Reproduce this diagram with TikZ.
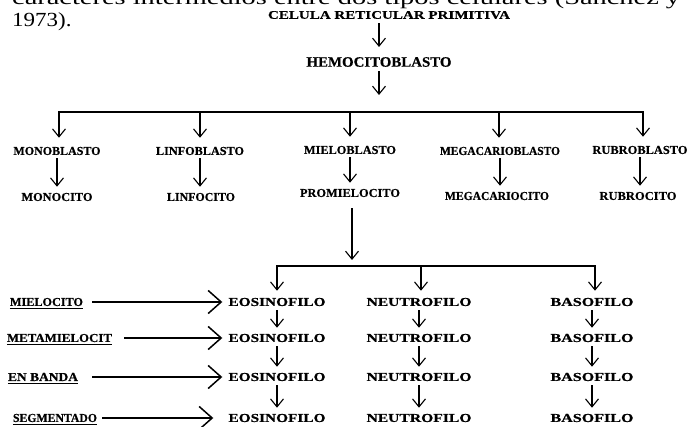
\documentclass[tikz,border=0pt]{standalone}
\usepackage{fontspec}
\setmainfont{Liberation Serif}
\newfontfamily\lblfont[FakeBold=0.5]{Liberation Serif Bold}
\usetikzlibrary{arrows.meta}
\newcommand{\fitlbl}[3][8]{\resizebox{#2pt}{#1pt}{\lblfont #3}}
\begin{document}
\begin{tikzpicture}[x=1pt,y=-1pt,
  lbl/.style={inner sep=0pt, anchor=center},
  dn/.style={-{Straight Barb[length=8pt,width=13pt,line width=1.1pt]}, line width=1.1pt},
  bar/.style={line width=1.3pt},
  big/.style={-{Straight Barb[length=13pt,width=23pt,line width=1.5pt]}, line width=1.5pt},
  uline/.style={line width=1pt}]
\useasboundingbox (0,0) rectangle (690,427);

% partially visible running text (cut by the page edge)
\begin{scope}
  \clip (0,0) rectangle (690,9);
  \node[anchor=base west, inner sep=0pt] (intro) at (12,4.5)
    {\scalebox{1.42}[1]{\fontsize{20}{24}\selectfont caracteres intermedios entre dos tipos celulares (Sánchez y}};
\end{scope}
\node[anchor=base west, inner sep=0pt] (year) at (12,27)
  {\scalebox{1.15}[1]{\fontsize{20}{24}\selectfont 1973).}};

% top chain
\node[lbl] (celula) at (389,15) {\fitlbl[7.7]{242}{CELULA RETICULAR PRIMITIVA}};
\node[lbl] (hemo) at (379,62) {\fitlbl[9.5]{145}{HEMOCITOBLASTO}};

\coordinate (b1) at (59,112);
\coordinate (b2) at (200,112);
\coordinate (b3) at (350,112);
\coordinate (b4) at (499,112);
\coordinate (b5) at (643,112);

\node[lbl] (mono)  at (57,151)  {\fitlbl{87}{MONOBLASTO}};
\node[lbl] (linfo) at (200,151) {\fitlbl{88}{LINFOBLASTO}};
\node[lbl] (mielo) at (350,150) {\fitlbl{92}{MIELOBLASTO}};
\node[lbl] (mega)  at (500,151) {\fitlbl{120}{MEGACARIOBLASTO}};
\node[lbl] (rubro) at (640,150) {\fitlbl{95}{RUBROBLASTO}};

\node[lbl] (monoc)  at (57,197)  {\fitlbl{71}{MONOCITO}};
\node[lbl] (linfoc) at (201,197) {\fitlbl{68}{LINFOCITO}};
\node[lbl] (prom)   at (350,193) {\fitlbl{100}{PROMIELOCITO}};
\node[lbl] (megac)  at (497,196) {\fitlbl{104}{MEGACARIOCITO}};
\node[lbl] (rubroc) at (638,196) {\fitlbl{77}{RUBROCITO}};

\draw[dn, shorten <=4pt, shorten >=10pt] (celula.south -| hemo) -- (hemo.north);
\draw[dn, shorten <=4pt, shorten >=17pt] (hemo.south) -- (hemo.south |- b3);
\draw[bar] (b1) -- (b5);
\foreach \b/\n in {b1/mono,b2/linfo,b3/mielo,b4/mega,b5/rubro}
  \draw[dn, shorten >=9pt] ([yshift=0.6pt]\b) -- (\b |- \n.north);
\foreach \a/\c in {mono/monoc,linfo/linfoc,mielo/prom,mega/megac,rubro/rubroc}
  \draw[dn, shorten <=3pt, shorten >=6pt] (\a.south) -- (\a.south |- \c.north);

% lower bracket
\coordinate (c1) at (277,266);
\coordinate (c2) at (421,266);
\coordinate (c3) at (595,266);
\draw[dn, shorten <=11pt, shorten >=6pt] (prom.south -| 352,0) -- (352,266);
\draw[bar] (c1) -- (c3);

\foreach \i/\y in {1/302,2/338,3/377,4/418}{
  \node[lbl] (eos\i) at (277,\y) {\fitlbl{97}{EOSINOFILO}};
  \node[lbl] (neu\i) at (419,\y) {\fitlbl{105}{NEUTROFILO}};
  \node[lbl] (bas\i) at (592,\y) {\fitlbl{83}{BASOFILO}};
}
\draw[dn, shorten >=7pt] ([yshift=0.6pt]c1) -- (c1 |- eos1.north);
\draw[dn, shorten >=7pt] ([yshift=0.6pt]c2) -- (c2 |- neu1.north);
\draw[dn, shorten >=7pt] ([yshift=0.6pt]c3) -- (c3 |- bas1.north);
\foreach \i/\j in {1/2,2/3,3/4}{
  \draw[dn, shorten <=4pt, shorten >=6pt] (eos\i.south) -- (eos\j.north);
  \draw[dn, shorten <=4pt, shorten >=6pt] (neu\i.south) -- (neu\j.north);
  \draw[dn, shorten <=4pt, shorten >=6pt] (bas\i.south) -- (bas\j.north);
}

% stage labels
\node[lbl] (st1) at (46.5,302) {\fitlbl{73}{MIELOCITO}};
\node[lbl] (st2) at (59.5,338) {\fitlbl{105}{METAMIELOCIT}};
\node[lbl] (st3) at (43,377)   {\fitlbl{70}{EN BANDA}};
\node[lbl] (st4) at (55,418)   {\fitlbl{84}{SEGMENTADO}};
\foreach \s in {st1,st2,st3,st4}
  \draw[uline] ([yshift=-2pt]\s.south west) -- ([yshift=-2pt]\s.south east);
\draw[big, shorten <=9pt,  shorten >=6pt]  (st1.east) -- (eos1.west);
\draw[big, shorten <=12pt, shorten >=6pt]  (st2.east) -- (eos2.west);
\draw[big, shorten <=14pt, shorten >=6pt]  (st3.east) -- (eos3.west);
\draw[big, shorten <=5pt,  shorten >=15pt] (st4.east) -- (eos4.west);
\end{tikzpicture}
\end{document}
